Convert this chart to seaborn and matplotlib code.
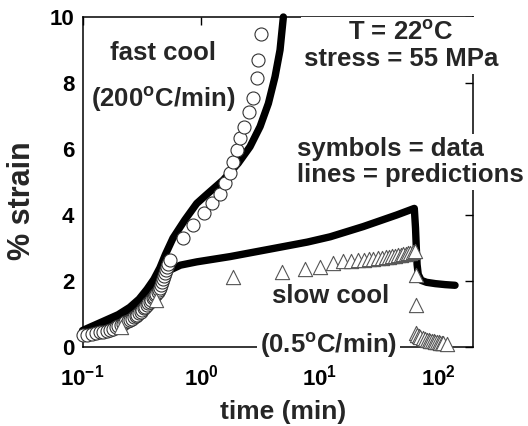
import matplotlib
matplotlib.use("Agg")
import matplotlib.pyplot as plt
import seaborn as sns
import pandas as pd
from matplotlib.ticker import FixedLocator, FixedFormatter, NullLocator

# ---------------- data ----------------
fast_line_t = [0.1, 0.15, 0.2, 0.25, 0.3, 0.35, 0.4, 0.45, 0.5, 0.58, 0.73, 0.92, 1.1,
               1.54, 2.06, 2.59, 3.15, 3.70, 4.21, 4.64, 4.95]
fast_line_s = [0.5, 0.78, 0.98, 1.2, 1.45, 1.75, 2.05, 2.4, 2.8, 3.3, 3.85, 4.35, 4.6,
               5.06, 5.57, 6.07, 6.68, 7.38, 8.19, 9.0, 10.0]

slow_line_t = [0.1, 0.15, 0.2, 0.25, 0.3, 0.35, 0.4, 0.45, 0.51, 0.67, 0.92, 1.76, 4.0,
               7.9, 12.3, 23.4, 44.7, 63.0, 64.5, 65.5, 66.5, 68.0, 72.0, 80.0, 95.0,
               115.0, 139.0]
slow_line_s = [0.4, 0.6, 0.8, 1.0, 1.2, 1.45, 1.7, 2.0, 2.28, 2.48, 2.58, 2.74, 2.98,
               3.18, 3.34, 3.65, 4.0, 4.2, 3.6, 3.0, 2.5, 2.2, 2.02, 1.96, 1.92,
               1.89, 1.87]

fast_data_t = [0.10, 0.11, 0.12, 0.13, 0.14, 0.15, 0.16, 0.17, 0.18, 0.19,
               0.20, 0.21, 0.22, 0.23, 0.24, 0.25, 0.26, 0.27, 0.28, 0.29,
               0.30, 0.31, 0.32, 0.33, 0.34, 0.35, 0.36, 0.37, 0.38, 0.39,
               0.40, 0.41, 0.42, 0.43, 0.44, 0.45, 0.46, 0.47, 0.48, 0.49,
               0.50, 0.51, 0.52, 0.53, 0.55,
               0.71, 0.86, 1.05, 1.23, 1.45, 1.60, 1.76, 1.87, 2.00, 2.13,
               2.32, 2.56, 2.76, 2.95, 3.05, 3.19]
fast_data_s = [0.35, 0.37, 0.39, 0.41, 0.44, 0.46, 0.50, 0.53, 0.56, 0.60,
               0.63, 0.67, 0.71, 0.75, 0.78, 0.82, 0.86, 0.90, 0.94, 0.98,
               1.02, 1.07, 1.12, 1.17, 1.22, 1.27, 1.32, 1.37, 1.42, 1.47,
               1.52, 1.57, 1.62, 1.68, 1.74, 1.80, 1.88, 1.96, 2.05, 2.14,
               2.23, 2.33, 2.43, 2.53, 2.64,
               3.29, 3.70, 4.05, 4.35, 4.65, 4.96, 5.26, 5.61, 5.97, 6.32,
               6.68, 7.13, 7.54, 8.14, 8.70, 9.47]

slow_data_t = [0.21, 0.417, 1.86, 4.8, 7.5, 10.1, 13.0, 15.8,
               18.5, 21.0, 23.5, 26.0, 28.5, 31.0, 33.5, 36.0, 38.5, 41.0,
               43.5, 46.0, 48.5, 51.0, 53.5, 56.0, 58.5, 61.0, 63.5,
               64.5, 64.5, 65.0,
               67, 69, 71, 74, 77, 80, 83, 86, 89, 92, 95, 98, 101, 104, 107, 110, 120]
slow_data_s = [0.62, 1.42, 2.12, 2.27, 2.36, 2.42, 2.54, 2.60,
               2.62, 2.64, 2.65, 2.67, 2.68, 2.70, 2.71, 2.72, 2.74, 2.75,
               2.76, 2.78, 2.79, 2.81, 2.82, 2.84, 2.86, 2.88, 2.90,
               2.18, 1.27, 0.42,
               0.36, 0.32, 0.29, 0.26, 0.24, 0.22, 0.20, 0.19, 0.18, 0.17,
               0.16, 0.15, 0.14, 0.13, 0.12, 0.12, 0.10]

x_ticks = [0.1, 1, 10, 100]
x_tick_labels = [r"$\mathregular{10^{-1}}$", r"$\mathregular{10^{0}}$",
                 r"$\mathregular{10^{1}}$", r"$\mathregular{10^{2}}$"]
y_ticks = [0, 2, 4, 6, 8, 10]
y_tick_labels = ["0", "2", "4", "6", "8", "10"]

# ---------------- style ----------------
sns.set_style("white")
plt.rcParams["font.family"] = ["Liberation Sans", "DejaVu Sans"]
plt.rcParams["font.weight"] = "bold"

fig = plt.figure(figsize=(5.28, 4.26), dpi=100)
W, H = 528.0, 426.0
ax = fig.add_axes([82.5 / W, 1 - 347 / H, 390.5 / W, 330 / H])
ax.set_xscale("log")

fast_line = pd.DataFrame({"t": fast_line_t, "s": fast_line_s})
slow_line = pd.DataFrame({"t": slow_line_t, "s": slow_line_s})
fast_data = pd.DataFrame({"t": fast_data_t, "s": fast_data_s})
slow_data = pd.DataFrame({"t": slow_data_t, "s": slow_data_s})

for df in (fast_line, slow_line):
    sns.lineplot(data=df, x="t", y="s", sort=False, estimator=None, color="black",
                 lw=5.3, solid_capstyle="round", solid_joinstyle="round", ax=ax,
                 zorder=2, clip_on=False)

sns.scatterplot(data=fast_data, x="t", y="s", marker="o", s=88, color="white",
                edgecolor="#333333", linewidth=0.8, ax=ax, zorder=3, clip_on=False)
sns.scatterplot(data=slow_data, x="t", y="s", marker="^", s=105, color="white",
                edgecolor="#555555", linewidth=0.8, ax=ax, zorder=3, clip_on=False)

ax.set_xlim(0.1, 197)
ax.set_ylim(0, 10)
ax.xaxis.set_major_locator(FixedLocator(x_ticks))
ax.xaxis.set_major_formatter(FixedFormatter(x_tick_labels))
ax.xaxis.set_minor_locator(NullLocator())
ax.yaxis.set_major_locator(FixedLocator(y_ticks))
ax.yaxis.set_major_formatter(FixedFormatter(y_tick_labels))

ax.tick_params(axis="both", which="major", direction="in", length=6, width=1.0,
               top=True, right=True, labelsize=16, colors="black")
ax.tick_params(axis="x", pad=13)
ax.tick_params(axis="y", pad=6)
for lab in ax.get_xticklabels() + ax.get_yticklabels():
    lab.set_fontweight("bold")
for sp in ax.spines.values():
    sp.set_color("black")
    sp.set_linewidth(1.1)

ax.set_xlabel("time (min)", fontsize=19, fontweight="bold", va="center")
ax.set_ylabel("% strain", fontsize=22, fontweight="bold", va="center")
ax.xaxis.set_label_coords((283 - 82.5) / 390.5, (347 - 412) / 330.0)
ax.yaxis.set_label_coords((22 - 82.5) / 390.5, (347 - 201) / 330.0)

box = dict(boxstyle="square,pad=0.12", facecolor="white", edgecolor="none")
def ann(x, y, s, ha="center", ls=1.2):
    ax.text(x, y, s, transform=ax.transAxes, ha=ha, va="baseline", fontsize=18.5,
            fontweight="bold", bbox=box, zorder=10, clip_on=False, linespacing=ls)

ann((163.5 - 82.5) / 390.5, (347 - 60) / 330.0, "fast cool")
ann((163.5 - 82.5) / 390.5, (347 - 107) / 330.0, r"(200$^\mathregular{o}$C/min)")
ann((401 - 82.5) / 390.5, (347 - 66) / 330.0,
    "T = 22$^\\mathregular{o}$C\nstress = 55 MPa", ls=1.1)
ann((297 - 82.5) / 390.5, (347 - 182) / 330.0,
    "symbols = data\nlines = predictions", ha="left", ls=1.1)
ann((330.5 - 82.5) / 390.5, (347 - 303) / 330.0, "slow cool")
ann((328.5 - 82.5) / 390.5, (347 - 353) / 330.0, r"(0.5$^\mathregular{o}$C/min)")

fig.savefig("out.png", dpi=100)
